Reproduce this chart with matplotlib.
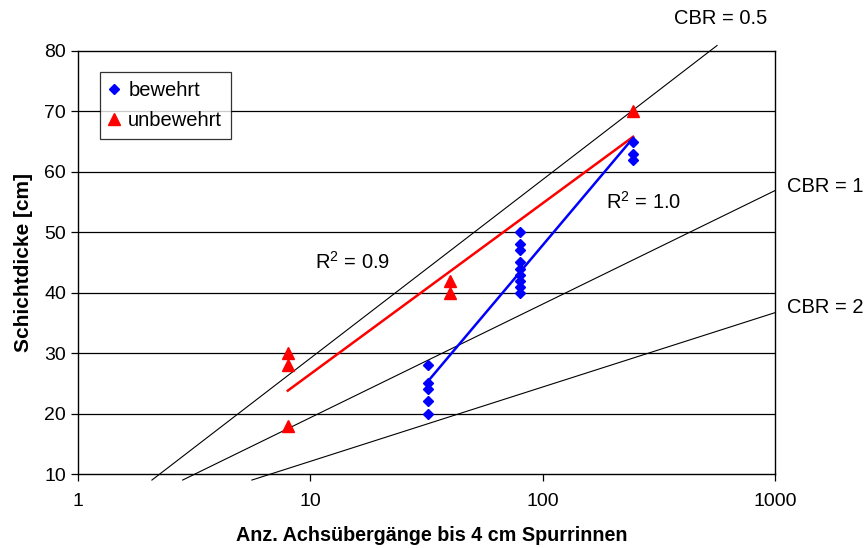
import matplotlib
matplotlib.use("Agg")
import matplotlib.pyplot as plt

plt.rcParams["font.family"] = ["Liberation Sans", "DejaVu Sans"]
plt.rcParams["mathtext.fontset"] = "custom"
plt.rcParams["mathtext.rm"] = "Liberation Sans"
plt.rcParams["mathtext.it"] = "Liberation Sans"

# data
bew_n = [32, 32, 32, 32, 32,
         80, 80, 80, 80, 80, 80, 80, 80, 80,
         245, 245, 245]
bew_h = [28, 25, 24, 22, 20,
         50, 48, 47, 45, 44, 43, 42, 41, 40,
         65, 63, 62]

unbew_n = [8, 8, 8, 40, 40, 245]
unbew_h = [30, 28, 18, 42, 40, 70]

# logarithmic trendlines (end points as drawn)
trend_bew_n = [32, 245]
trend_bew_h = [25.3, 65.6]
trend_unbew_n = [8, 245]
trend_unbew_h = [23.8, 65.8]

# CBR design lines (end points, N vs. thickness)
cbr_labels = ["CBR = 0.5", "CBR = 1", "CBR = 2"]
cbr_n = [[2.08, 563], [2.82, 1000], [5.6, 1000]]
cbr_h = [[9.0, 80.9], [9.0, 56.9], [9.0, 36.7]]

r2_labels = ["R$^2$ = 1.0", "R$^2$ = 0.9"]

x_ticks = [1, 10, 100, 1000]
y_ticks = [10, 20, 30, 40, 50, 60, 70, 80]


fig = plt.figure(figsize=(8.64, 5.48), dpi=100)
ax = fig.add_axes([0.0903, 0.135, 0.8067, 0.772])

ax.set_xscale("log")
ax.set_xlim(1, 1000)
ax.set_ylim(10, 80)

for y in y_ticks[1:-1]:
    ax.axhline(y, color="black", linewidth=0.9, zorder=1)

for xs, ys in zip(cbr_n, cbr_h):
    ax.plot(xs, ys, color="black", linewidth=0.8, clip_on=False, zorder=2)

# trendlines
ax.plot(trend_unbew_n, trend_unbew_h, color="#ff0000", linewidth=1.8, zorder=3)
ax.plot(trend_bew_n, trend_bew_h, color="#0000ff", linewidth=1.8, zorder=3)

ax.plot(bew_n, bew_h, linestyle="none", marker="D", markersize=5.5,
        color="#0000ff", label="bewehrt", zorder=4)
ax.plot(unbew_n, unbew_h, linestyle="none", marker="^", markersize=8,
        color="#ff0000", label="unbewehrt", zorder=4)

ax.set_xticks(x_ticks)
ax.set_xticklabels([str(v) for v in x_ticks])
ax.minorticks_off()
ax.set_yticks(y_ticks)
ax.tick_params(axis="both", labelsize=14, length=5, width=0.9, direction="out")
ax.tick_params(axis="x", pad=9)
for sp in ax.spines.values():
    sp.set_linewidth(1.0)

ax.set_xlabel("Anz. Achsübergänge bis 4 cm Spurrinnen", fontsize=14.2,
              fontweight="bold")
ax.xaxis.set_label_coords(0.507, -0.124)
ax.set_ylabel("Schichtdicke [cm]", fontsize=15, fontweight="bold", labelpad=8)

ax.text(187, 55.1, r2_labels[0], fontsize=14.5, ha="left", va="center")
ax.text(10.5, 45.15, r2_labels[1], fontsize=14.5, ha="left", va="center")

ax.text(0.9225, 1.077, cbr_labels[0], transform=ax.transAxes, fontsize=14.5,
        ha="center", va="center")
ax.text(1.0168, 0.679, cbr_labels[1], transform=ax.transAxes, fontsize=14.5,
        ha="left", va="center")
ax.text(1.0168, 0.394, cbr_labels[2], transform=ax.transAxes, fontsize=14.5,
        ha="left", va="center")

leg = ax.legend(loc="upper left", bbox_to_anchor=(0.0316, 0.950),
                borderaxespad=0, fontsize=14.5, frameon=True, fancybox=False,
                edgecolor="black", handlelength=0.5, handletextpad=0.45,
                borderpad=0.45, labelspacing=0.55, numpoints=1)
leg.get_frame().set_linewidth(0.9)

fig.savefig("out.png", dpi=100)
plt.close(fig)
